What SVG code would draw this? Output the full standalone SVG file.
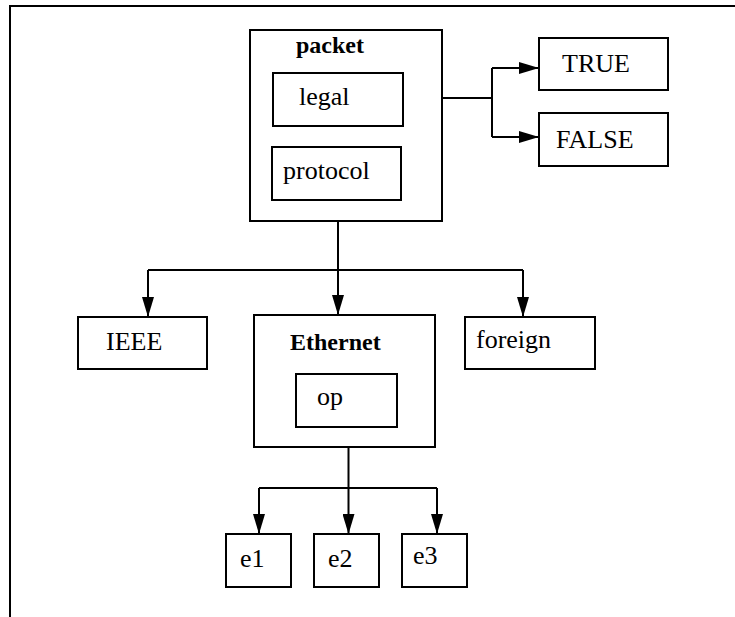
<svg xmlns="http://www.w3.org/2000/svg" width="735" height="617" viewBox="0 0 735 617">
<defs>
<style>
.box{fill:#fff;stroke:#000;stroke-width:2}
.frame{fill:none;stroke:#000;stroke-width:2}
.t{font-family:"Liberation Serif","Times New Roman",serif;font-size:26px;fill:#000}
.b{font-family:"Liberation Serif","Times New Roman",serif;font-size:24px;font-weight:bold;fill:#000}
.c{fill:none;stroke:#000;stroke-width:2}
.a{fill:none;stroke:#000;stroke-width:2;marker-end:url(#arr)}
</style>
<marker id="arr" viewBox="0 0 20 12" refX="20" refY="6" markerWidth="20" markerHeight="12" markerUnits="userSpaceOnUse" orient="auto">
<path d="M0,0 L20,6 L0,12 Z" fill="#000"/>
</marker>
</defs>
<rect width="735" height="617" fill="#fff"/>
<path class="frame" d="M10,617 V6 H735"/>
<g id="connectors">
<path class="c" d="M403,98 H492 M492,68 V137"/>
<path class="a" d="M492,68 H539"/>
<path class="a" d="M492,137 H539"/>
<path class="a" d="M338,200 V315"/>
<path class="c" d="M148,270 H523"/>
<path class="a" d="M148,270 V317"/>
<path class="a" d="M523,270 V317"/>
<path class="a" d="M348.5,427 V534"/>
<path class="c" d="M259,488 H437"/>
<path class="a" d="M259,488 V534"/>
<path class="a" d="M437,488 V534"/>
</g>
<g id="packet">
<rect class="box" x="250" y="30" width="192" height="191"/>
<text class="b" x="296" y="53">packet</text>
</g>
<g id="legal">
<rect class="box" x="273" y="73" width="130" height="53"/>
<text class="t" x="299" y="105">legal</text>
</g>
<g id="protocol">
<rect class="box" x="272" y="147" width="129" height="53"/>
<text class="t" x="283" y="179">protocol</text>
</g>
<g id="TRUE">
<rect class="box" x="539" y="38" width="129" height="52"/>
<text class="t" x="562" y="72">TRUE</text>
</g>
<g id="FALSE">
<rect class="box" x="539" y="113" width="129" height="53"/>
<text class="t" x="556" y="148">FALSE</text>
</g>
<g id="IEEE">
<rect class="box" x="78" y="317" width="129" height="52"/>
<text class="t" x="106" y="350">IEEE</text>
</g>
<g id="Ethernet">
<rect class="box" x="254" y="315" width="181" height="132"/>
<text class="b" x="290" y="350">Ethernet</text>
</g>
<g id="foreign">
<rect class="box" x="465" y="317" width="130" height="52"/>
<text class="t" x="476" y="348">foreign</text>
</g>
<g id="op">
<rect class="box" x="296" y="374" width="101" height="53"/>
<text class="t" x="317" y="405">op</text>
</g>
<g id="e1">
<rect class="box" x="226" y="534" width="65" height="53"/>
<text class="t" x="240" y="567">e1</text>
</g>
<g id="e2">
<rect class="box" x="314" y="534" width="65" height="53"/>
<text class="t" x="328" y="567">e2</text>
</g>
<g id="e3">
<rect class="box" x="402" y="534" width="65" height="53"/>
<text class="t" x="413" y="564">e3</text>
</g>
</svg>
